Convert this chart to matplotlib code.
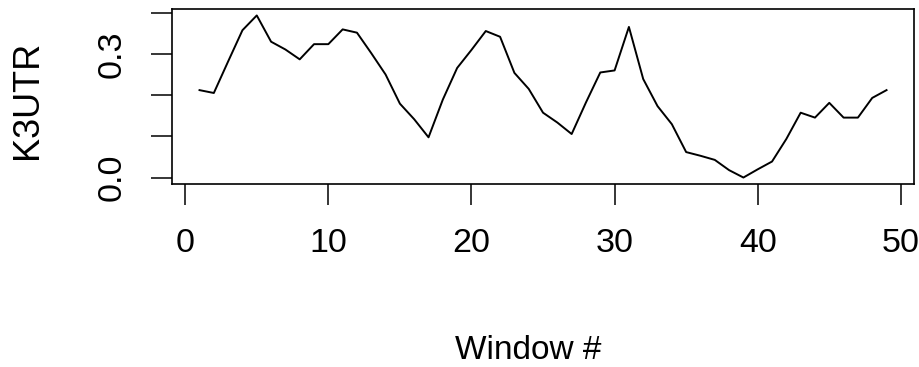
import matplotlib
matplotlib.use("Agg")
import matplotlib.pyplot as plt
import numpy as np

# window index and K3UTR value per window
windows = list(range(1, 50))
k3utr = [0.213, 0.206, 0.283, 0.359, 0.395, 0.331, 0.312, 0.288, 0.325, 0.325,
         0.361, 0.353, 0.303, 0.251, 0.180, 0.142, 0.098, 0.190, 0.267, 0.311,
         0.357, 0.343, 0.255, 0.216, 0.158, 0.134, 0.106, 0.183, 0.256, 0.261,
         0.367, 0.240, 0.174, 0.130, 0.062, 0.053, 0.043, 0.018, 0.000, 0.020,
         0.039, 0.094, 0.158, 0.146, 0.182, 0.146, 0.146, 0.194, 0.213]
x_ticks = [0, 10, 20, 30, 40, 50]
y_ticks = [0.0, 0.1, 0.2, 0.3, 0.4]
y_tick_labels = ["0.0", "", "", "0.3", ""]

plt.rcParams['font.family'] = ['Liberation Sans', 'DejaVu Sans']

fig = plt.figure(figsize=(9.2, 3.67), dpi=100)
ax = fig.add_axes([0.187, 0.4986, 0.8065, 0.477])

ax.plot(windows, k3utr, color='black', lw=1.4)

# R style 4% padding on each side
xr = max(windows) - min(windows)
yr = max(k3utr) - min(k3utr)
ax.set_xlim(min(windows) - 0.04 * xr, max(windows) + 0.04 * xr)
ax.set_ylim(min(k3utr) - 0.04 * yr, max(k3utr) + 0.04 * yr)

ax.set_xticks(x_ticks)
ax.set_yticks(y_ticks)
ax.set_yticklabels(y_tick_labels)
ax.tick_params(axis='both', direction='out', length=15, width=1.1,
               labelsize=24.5, colors='black')
ax.tick_params(axis='x', pad=17)
ax.tick_params(axis='y', pad=17, labelrotation=90)
for lab in ax.get_yticklabels():
    lab.set_va('center')

for s in ax.spines.values():
    s.set_linewidth(1.2)

fig.text(0.0304, 0.7275, "K3UTR", rotation=90, ha='center', va='center', fontsize=26)
fig.text(0.574, 0.046, "Window #", ha='center', va='center', fontsize=24)

fig.savefig("out.png", dpi=100)
